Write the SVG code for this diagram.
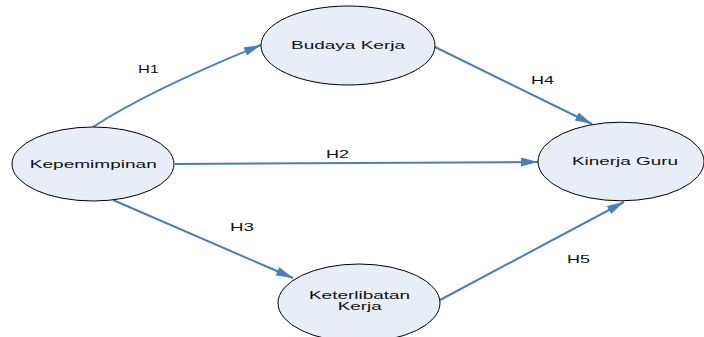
<svg xmlns="http://www.w3.org/2000/svg" width="704" height="337" viewBox="0 0 704 337">
  <style>
    .node ellipse { fill: #E8EEF8; stroke: #000000; stroke-width: 1; }
    .node text, .label { font-family: "Liberation Sans", Arial, sans-serif; font-size: 11px; fill: #111111; text-anchor: middle; }
    .node text.tight { font-size: 10.5px; }
    .edge { fill: none; stroke: #4A7EBB; stroke-width: 2; marker-end: url(#arrow); }
  </style>
  <defs>
    <marker id="arrow" markerUnits="userSpaceOnUse" markerWidth="18" markerHeight="9" refX="17" refY="4.5" orient="auto">
      <path d="M0,0 L17,4.5 L0,9 Z" fill="#4A7EBB"/>
    </marker>
  </defs>
  <rect width="704" height="337" fill="#FFFFFF"/>

  <g id="connectors">
    <path class="edge" d="M93,127 Q150,90 261,45"/>
    <path class="edge" d="M175,164 L538,162"/>
    <path class="edge" d="M113,200 L293,278"/>
    <path class="edge" d="M433,46 L592,124"/>
    <path class="edge" d="M440,300 L624,202"/>
    <text class="label" x="148.5" y="73" textLength="21" lengthAdjust="spacingAndGlyphs">H1</text>
    <text class="label" x="337.5" y="157.5" textLength="23" lengthAdjust="spacingAndGlyphs">H2</text>
    <text class="label" x="242" y="230.5" textLength="24" lengthAdjust="spacingAndGlyphs">H3</text>
    <text class="label" x="542.5" y="84" textLength="23" lengthAdjust="spacingAndGlyphs">H4</text>
    <text class="label" x="578.5" y="262.5" textLength="23" lengthAdjust="spacingAndGlyphs">H5</text>
  </g>

  <g id="budaya-kerja" class="node">
    <ellipse cx="348" cy="45.5" rx="87" ry="39.5"/>
    <text x="348" y="48.5" textLength="114" lengthAdjust="spacingAndGlyphs">Budaya Kerja</text>
  </g>
  <g id="kepemimpinan" class="node">
    <ellipse cx="93" cy="164" rx="81" ry="37"/>
    <text x="93.3" y="168" textLength="127" lengthAdjust="spacingAndGlyphs">Kepemimpinan</text>
  </g>
  <g id="kinerja-guru" class="node">
    <ellipse cx="621" cy="161.5" rx="83" ry="39.3"/>
    <text x="625" y="164.5" textLength="106" lengthAdjust="spacingAndGlyphs">Kinerja Guru</text>
  </g>
  <g id="keterlibatan-kerja" class="node">
    <ellipse cx="359" cy="303" rx="81" ry="39"/>
    <text class="tight" x="359.5" y="299" textLength="101" lengthAdjust="spacingAndGlyphs">Keterlibatan</text>
    <text class="tight" x="359.7" y="310" textLength="44" lengthAdjust="spacingAndGlyphs">Kerja</text>
  </g>
</svg>
